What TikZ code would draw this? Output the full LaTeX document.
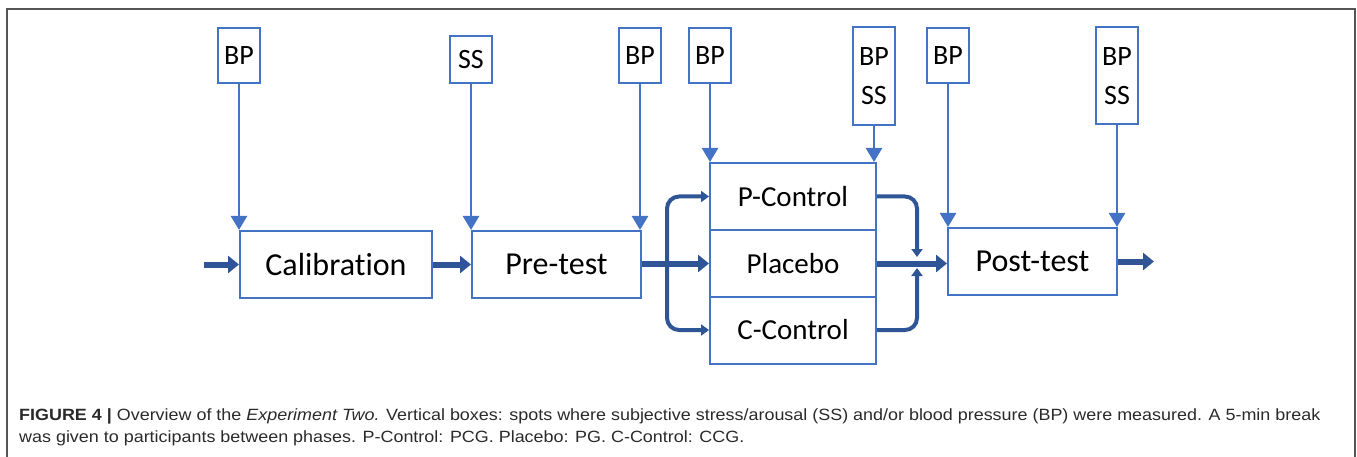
\documentclass[tikz,border=0pt]{standalone}
\usepackage{fontspec}
\setmainfont{Carlito}[Ligatures=NoCommon]
\newfontfamily\capfont{Liberation Sans}
\usetikzlibrary{arrows.meta}
\definecolor{lblue}{HTML}{4472C4}
\definecolor{dblue}{HTML}{2F5597}
\definecolor{frame}{HTML}{555555}
\definecolor{captxt}{HTML}{2A2A2A}
\tikzset{
  phase/.style={draw=lblue, line width=2pt, fill=white, inner sep=0pt, minimum height=67pt, font=\fontsize{32}{36}\selectfont},
  grp/.style={draw=lblue, line width=2pt, fill=white, inner sep=0pt, minimum width=166pt, minimum height=67pt, font=\fontsize{29}{33}\selectfont},
  meas/.style={draw=lblue, line width=2pt, fill=white, inner sep=0pt, minimum width=42pt, minimum height=55pt, font=\fontsize{28}{39}\selectfont, align=center},
  thin/.style={draw=lblue, line width=2.5pt, -{Triangle[length=14pt,width=16pt]}},
  blk/.style={draw=dblue, line width=6pt, -{Triangle[length=11pt,width=17pt]}},
  curv/.style={draw=dblue, line width=4pt, rounded corners=12pt, -{Triangle[length=8pt,width=11pt]}},
  captionline/.style={anchor=base west, inner sep=0pt, text=captxt, font=\capfont\fontsize{16.3}{19}\selectfont},
}
\begin{document}
\begin{tikzpicture}[x=1pt,y=-1pt]
\useasboundingbox (0,0) rectangle (1357,457);
\draw[frame, line width=1.3pt] (7,457) -- (7,9) -- (1355,9) -- (1355,457);

% phase boxes
\node[phase, minimum width=192pt] (cal) at (336,264.5) {Calibration};
\node[phase, minimum width=169pt] (pre) at (556.5,264.5) {Pre-test};
\node[grp] (pc) at (793,196.5) {P-Control};
\node[grp] (pl) at (793,263.5) {Placebo};
\node[grp] (cc) at (793,330) {C-Control};
\node[phase, minimum width=169pt] (post) at (1032.5,261.5) {Post-test};

% measurement boxes
\node[meas] (m1) at (239,55.5) {BP};
\node[meas, minimum height=47pt] (m2) at (471,59.5) {SS};
\node[meas] (m3) at (640,55.5) {BP};
\node[meas] (m4) at (710,55.5) {BP};
\node[meas, minimum height=98pt] (m5) at (874,76.5) {BP\\SS};
\node[meas] (m6) at (948,55.5) {BP};
\node[meas, minimum height=97pt] (m7) at (1117,76) {BP\\SS};

\draw[thin] (m1.south) -- (m1.south |- cal.north);
\draw[thin] (m2.south) -- (m2.south |- pre.north);
\draw[thin] (m3.south) -- (m3.south |- pre.north);
\draw[thin] (m4.south) -- (m4.south |- pc.north);
\draw[thin] (m5.south) -- (m5.south |- pc.north);
\draw[thin] (m6.south) -- (m6.south |- post.north);
\draw[thin] (m7.south) -- (m7.south |- post.north);

% block arrows
\coordinate (in) at (204,264.5);
\coordinate (out) at (1154,261.5);
\coordinate (bl) at (667,263.5);
\coordinate (jt) at (917,257);
\coordinate (jb) at (917,268);
\draw[blk] (in) -- (cal.west);
\draw[blk] (cal.east) -- (pre.west);
\draw[blk] (pre.east |- pl.west) -- (pl.west);
\draw[blk] (pl.east) -- (pl.east -| post.west);
\draw[blk] (post.east) -- (out);

% branches
\draw[curv] (bl) |- (pc.west);
\draw[curv] (bl) |- (cc.west);
\draw[curv] (pc.east) -| (jt);
\draw[curv] (cc.east) -| (jb);

% caption
\node[captionline] (c1) at (19,420)
  {\scalebox{1.1}[1]{\textbf{FIGURE 4 |} Overview of the \textit{Experiment Two.} Vertical boxes: spots where subjective stress/arousal (SS) and/or blood pressure (BP) were measured. A 5-min break}};
\node[captionline] (c2) at (19,442)
  {\scalebox{1.1}[1]{was given to participants between phases. P-Control: PCG. Placebo: PG. C-Control: CCG.}};
\end{tikzpicture}
\end{document}
